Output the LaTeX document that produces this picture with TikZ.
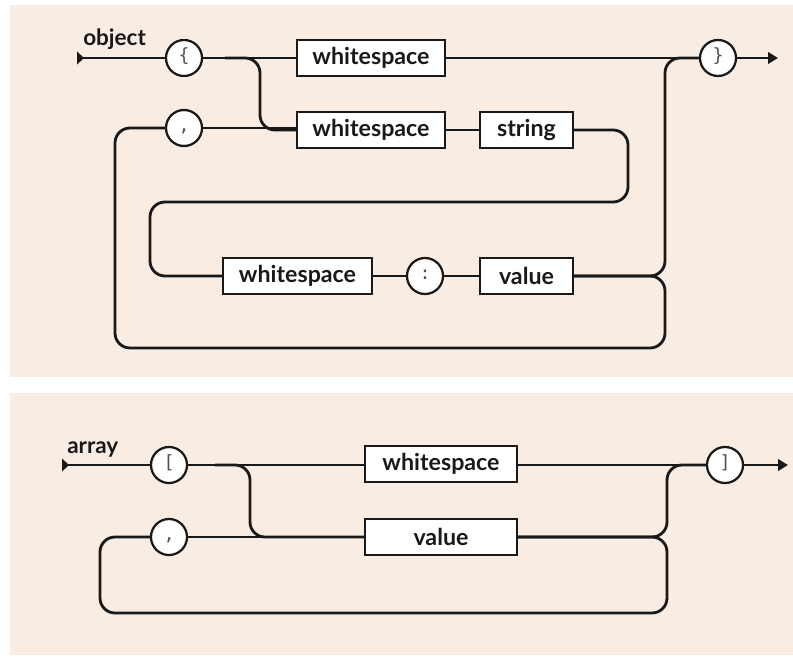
\documentclass[tikz,border=0pt]{standalone}
\usepackage{fontspec}
\setmainfont{Lato}
\newfontfamily\charfont{DejaVu Sans Mono}
\usetikzlibrary{arrows.meta}

\definecolor{panelbg}{RGB}{249,237,227}
\definecolor{ink}{RGB}{25,25,25}

\tikzset{
  rail/.style = {draw = ink, line width = 2pt, rounded corners = 0.375cm},
  railbox/.style = {draw = ink, line width = 1.6pt, fill = white,
    minimum height = 0.9cm, inner sep = 0pt, text = ink,
    font = \fontsize{16.5}{19}\selectfont\bfseries},
  railchar/.style = {draw = ink, circle, line width = 1.6pt, fill = white,
    minimum size = 0.9cm, inner sep = 0pt, text = ink!75,
    text height = 0.75em, text depth = 0.2em,
    font = \fontsize{13}{15}\selectfont\charfont},
  raillabel/.style = {anchor = base west, inner sep = 0pt, text = ink,
    font = \fontsize{16}{18}\selectfont\bfseries},
  railstart/.style = {{Triangle[reversed, length = 5pt, width = 9pt]}-},
  railend/.style = {-{Triangle[length = 7pt, width = 8pt]}}
}

\begin{document}
\begin{tikzpicture}[x = 0.025cm, y = -0.025cm]
  \useasboundingbox (0, 0) rectangle (793, 656);
  \fill[panelbg] (10, 5) rectangle (793, 377);
  \fill[panelbg] (10, 393) rectangle (793, 655);

  % object
  \coordinate (objin) at (77, 58);
  \coordinate (objout) at (778, 58);
  \node[raillabel] (objlbl) at (83, 46) {object};
  \node[railchar] (lbrace) at (184, 58) {\{};
  \node[railchar] (ocomma) at (184, 128) {,};
  \node[railchar] (rbrace) at (718, 58) {\}};
  \node[railchar] (colon) at (425, 276) {:};
  \node[railbox, minimum width = 3.7cm] (ows1) at (371, 58) {whitespace};
  \node[railbox, minimum width = 3.7cm] (ows2) at (371, 130) {whitespace};
  \node[railbox, minimum width = 2.325cm] (ostr) at (526.5, 130) {string};
  \node[railbox, minimum width = 3.725cm] (ows3) at (297.5, 276) {whitespace};
  \node[railbox, minimum width = 2.325cm] (oval) at (526.5, 276) {value};

  \draw[rail, railstart] (objin) -- (lbrace);
  \draw[rail] (lbrace) -- (ows1);
  \draw[rail] (ows1) -- (rbrace);
  \draw[rail, railend] (rbrace) -- (objout);
  \draw[rail] (225, 58) -- (260, 58) -- (260, 130) -- (ows2.west);
  \draw[rail] (ocomma.east) -- (ocomma.east -| ows2.west);
  \draw[rail] (ows2) -- (ostr);
  \draw[rail] (ostr.east) -- (628, 130) -- (628, 202) -- (150, 202)
    -- (150, 276) -- (ows3.west);
  \draw[rail] (ows3) -- (colon);
  \draw[rail] (colon) -- (oval);
  \draw[rail] (oval.east) -- (665, 276) -- (665, 58) -- (rbrace.west);
  \draw[rail] (oval.east) -- (665, 276) -- (665, 348) -- (115, 348)
    -- (115, 128) -- (ocomma.west);

  % array
  \coordinate (arrin) at (62, 465);
  \coordinate (arrout) at (788, 465);
  \node[raillabel] (arrlbl) at (67, 453) {array};
  \node[railchar] (lbrack) at (169, 465) {[};
  \node[railchar] (acomma) at (169, 537) {,};
  \node[railchar] (rbrack) at (725, 465) {]};
  \node[railbox, minimum width = 3.8cm] (aws) at (441, 464) {whitespace};
  \node[railbox, minimum width = 3.8cm] (aval) at (441, 537) {value};

  \draw[rail, railstart] (arrin) -- (lbrack);
  \draw[rail] (lbrack.east) -- (lbrack.east -| aws.west);
  \draw[rail] (aws.east |- rbrack) -- (rbrack);
  \draw[rail, railend] (rbrack) -- (arrout);
  \draw[rail] (215, 465) -- (250, 465) -- (250, 537) -- (aval.west);
  \draw[rail] (acomma) -- (aval);
  \draw[rail] (aval.east) -- (667, 537) -- (667, 465) -- (rbrack.west);
  \draw[rail] (aval.east) -- (667, 537) -- (667, 613) -- (100, 613)
    -- (100, 537) -- (acomma.west);
\end{tikzpicture}
\end{document}
